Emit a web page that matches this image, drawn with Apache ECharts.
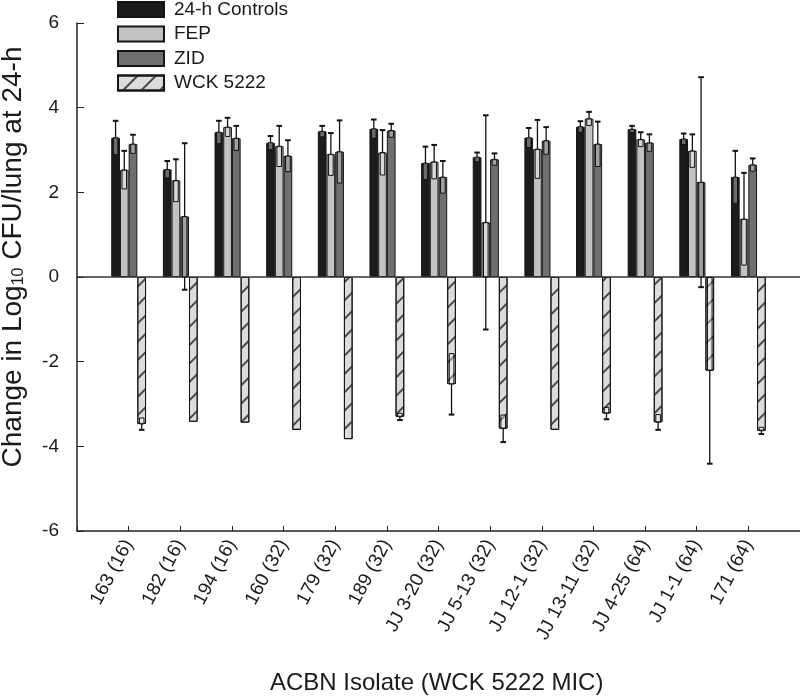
<!DOCTYPE html>
<html>
<head>
<meta charset="utf-8">
<script src="https://cdn.jsdelivr.net/npm/echarts@6/dist/echarts.min.js"></script>
<style>
  html, body { margin: 0; padding: 0; background: #fff; }
  #chart { width: 800px; height: 699px; }
</style>
</head>
<body>
<div id="chart"></div>
<script>
var categories = ['163 (16)', '182 (16)', '194 (16)', '160 (32)', '179 (32)', '189 (32)',
  'JJ 3-20 (32)', 'JJ 5-13 (32)', 'JJ 12-1 (32)', 'JJ 13-11 (32)', 'JJ 4-25 (64)', 'JJ 1-1 (64)', '171 (64)'];

var controls   = [3.29, 2.54, 3.42, 3.17, 3.44, 3.50, 2.69, 2.83, 3.29, 3.55, 3.49, 3.26, 2.36];
var controlsSd = [0.40, 0.20, 0.27, 0.16, 0.13, 0.22, 0.39, 0.11, 0.23, 0.13, 0.08, 0.13, 0.62];
var fep        = [2.53, 2.28, 3.54, 3.09, 2.90, 2.94, 2.72, 1.29, 3.02, 3.74, 3.25, 2.98, 1.37];
var fepSd      = [0.45, 0.50, 0.22, 0.48, 0.50, 0.53, 0.40, 2.53, 0.69, 0.16, 0.17, 0.39, 1.09];
var zid        = [3.14, 1.43, 3.28, 2.86, 2.96, 3.46, 2.36, 2.78, 3.22, 3.14, 3.17, 2.24, 2.65];
var zidSd      = [0.22, 1.73, 0.29, 0.37, 0.74, 0.16, 0.38, 0.14, 0.32, 0.53, 0.20, 2.48, 0.15];
var wck        = [-3.47, -3.42, -3.44, -3.61, -3.83, -3.30, -2.53, -3.58, -3.61, -3.22, -3.43, -2.21, -3.63];
var wckSd      = [0.14, 0, 0, 0, 0, 0.08, 0.72, 0.32, 0, 0.14, 0.18, 2.20, 0.08];

var yTicks = { min: -6, max: 6, interval: 2 };

var font = 'Liberation Sans, Arial, sans-serif';
var barW = 8.7;

// empty slot at each end: groups sit one full step in from the y axis
var axisCats = [''].concat(categories, ['']);

function pts(values) {
  return values.map(function (v, i) { return [i + 1, v]; });
}

function barSeries(name, values, color, extra) {
  return {
    name: name,
    type: 'bar',
    barWidth: barW,
    barGap: '0%',
    data: pts(values),
    itemStyle: Object.assign({ color: color, borderColor: '#151515', borderWidth: 1 }, extra || {})
  };
}

function errSeries(values, sds, slot) {
  return {
    type: 'custom',
    silent: true,
    z: 5,
    data: values.map(function (v, i) { return [i + 1, v, sds[i]]; }),
    renderItem: function (params, api) {
      var i = api.value(0), m = api.value(1), s = api.value(2);
      if (!s) return;
      var dir = m >= 0 ? 1 : -1;
      var x = api.coord([i, 0])[0] + (slot - 1.5) * barW;
      var y0 = api.coord([i, 0])[1];
      var yv = api.coord([i, m])[1];
      var yOut = api.coord([i, m + dir * s])[1];
      var inner = m - dir * s;
      var crosses = dir > 0 ? inner < 0 : inner > 0;
      var yIn = crosses ? y0 : api.coord([i, inner])[1];
      var st = { stroke: '#111', lineWidth: 1.3 };
      var cap = { stroke: '#111', lineWidth: 2 };
      var kids = [
        { type: 'line', shape: { x1: x, y1: yv, x2: x, y2: yOut }, style: st },
        { type: 'line', shape: { x1: x - 2.8, y1: yOut, x2: x + 2.8, y2: yOut }, style: cap },
        { type: 'rect', shape: { x: x - 2.3, y: Math.min(yv, yIn), width: 4.6, height: Math.abs(yIn - yv) },
          style: { fill: 'rgba(255,255,255,0.35)', stroke: '#111', lineWidth: 1 } }
      ];
      if (crosses) {
        var yEnd = api.coord([i, inner])[1];
        kids.push({ type: 'line', shape: { x1: x, y1: y0, x2: x, y2: yEnd }, style: st });
        kids.push({ type: 'line', shape: { x1: x - 2.8, y1: yEnd, x2: x + 2.8, y2: yEnd }, style: cap });
      }
      return { type: 'group', children: kids };
    }
  };
}

var chart = echarts.init(document.getElementById('chart'));
var option = {
  animation: false,
  backgroundColor: '#fff',
  textStyle: { fontFamily: font, color: '#1a1a1a' },
  title: {
    text: 'ACBN Isolate (WCK 5222 MIC)',
    left: 270, top: 671, padding: 0,
    textStyle: { fontFamily: font, fontSize: 24, fontWeight: 'normal', color: '#1a1a1a' }
  },
  legend: {
    orient: 'vertical',
    left: 117, top: 0, padding: 0,
    icon: 'rect',
    itemWidth: 46, itemHeight: 15, itemGap: 5.5,
    textStyle: { fontFamily: font, fontSize: 19, color: '#1a1a1a', padding: [0, 0, 0, 5] },
    data: ['24-h Controls', 'FEP', 'ZID', 'WCK 5222']
  },
  grid: { left: 77, top: 23, bottom: 168, right: 0, containLabel: false, outerBoundsMode: 'none' },
  xAxis: {
    type: 'category',
    boundaryGap: false,
    data: axisCats,
    axisLine: { onZero: false, lineStyle: { color: '#222', width: 1.5 } },
    axisTick: { inside: true, length: 5, lineStyle: { color: '#222' } },
    axisLabel: { rotate: 62, fontSize: 19, color: '#1a1a1a', interval: 0, margin: 10, fontFamily: font },
    splitLine: { show: false }
  },
  yAxis: {
    type: 'value',
    min: yTicks.min, max: yTicks.max, interval: yTicks.interval,
    name: 'Change in Log{s|10} CFU/lung at 24-h',
    nameLocation: 'middle',
    nameGap: 50,
    nameTextStyle: {
      fontFamily: font, fontSize: 28, color: '#1a1a1a',
      padding: [0, 0, 0, 40],
      rich: { s: { fontSize: 16, fontFamily: font, padding: [12, 0, 0, 0] } }
    },
    axisLine: { show: true, lineStyle: { color: '#222', width: 1.5 } },
    axisTick: { show: true, inside: true, length: 7, lineStyle: { color: '#222' } },
    axisLabel: { fontSize: 19, color: '#1a1a1a', margin: 18, fontFamily: font },
    splitLine: { show: false }
  },
  series: [
    Object.assign(barSeries('24-h Controls', controls, '#1c1c1c'), {
      markLine: {
        silent: true, symbol: 'none', label: { show: false },
        lineStyle: { color: '#333', width: 1.5, type: 'solid' },
        data: [{ yAxis: 0 }]
      }
    }),
    barSeries('FEP', fep, '#c2c2c2'),
    barSeries('ZID', zid, '#6f6f6f'),
    barSeries('WCK 5222', wck, '#dcdcdc', {
      decal: {
        symbol: 'rect', symbolSize: 1, color: '#4a4a4a',
        dashArrayX: [1, 0], dashArrayY: [1.2, 11], rotation: -Math.PI / 4
      }
    }),
    errSeries(controls, controlsSd, 0),
    errSeries(fep, fepSd, 1),
    errSeries(zid, zidSd, 2),
    errSeries(wck, wckSd, 3)
  ]
};
chart.setOption(option);
</script>
</body>
</html>
